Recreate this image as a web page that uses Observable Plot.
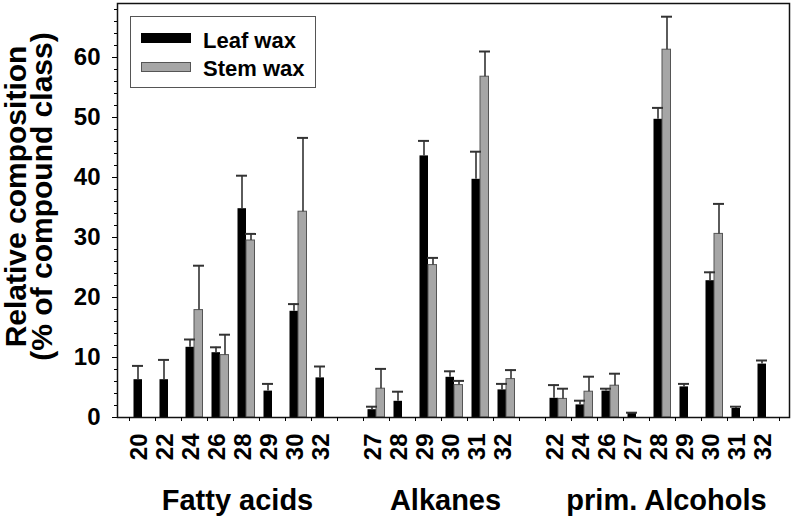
<!DOCTYPE html>
<html>
<head>
<meta charset="utf-8">
<script src="https://cdn.jsdelivr.net/npm/d3@7"></script>
<script src="https://cdn.jsdelivr.net/npm/@observablehq/plot@0.6"></script>
<style>
  html, body { margin: 0; padding: 0; background: #fff; }
  #wrap { position: relative; width: 793px; height: 519px; font-family: "Liberation Sans", Arial, sans-serif; }
  #legend { position: absolute; left: 130px; top: 16px; width: 186px; height: 72px; border: 1px solid #555; background: #fff; box-sizing: border-box; }
  .sw { position: absolute; left: 10px; width: 50px; height: 10px; box-sizing: border-box; }
  .lt { position: absolute; left: 72px; font-size: 22px; font-weight: bold; color: #000; line-height: 22px; }
</style>
</head>
<body>
<div id="wrap"></div>
<script>
// ---- data ----
const groups = ["Fatty acids", "Alkanes", "prim. Alcohols"];
const chains = [
  ["20", "22", "24", "26", "28", "29", "30", "32"],
  ["27", "28", "29", "30", "31", "32"],
  ["22", "24", "26", "27", "28", "29", "30", "31", "32"]
];
const leafValues = [
  [6.3, 6.3, 11.7, 10.8, 34.8, 4.4, 17.7, 6.6],
  [1.3, 2.7, 43.6, 6.7, 39.7, 4.6],
  [3.2, 2.1, 4.4, 0.7, 49.7, 5.1, 22.8, 1.5, 8.9]
];
const leafErrors = [
  [2.3, 3.3, 1.3, 0.9, 5.5, 1.2, 1.2, 1.9],
  [0.5, 1.6, 2.5, 1.0, 4.6, 1.0],
  [2.2, 0.7, 0.4, 0.1, 1.9, 0.5, 1.4, 0.3, 0.6]
];
const stemValues = [
  [null, null, 17.9, 10.4, 29.5, null, 34.3, null],
  [4.8, null, 25.4, 5.4, 56.8, 6.4],
  [3.1, 4.3, 5.3, null, 61.3, null, 30.6, null, null]
];
const stemErrors = [
  [null, null, 7.4, 3.4, 1.1, null, 12.3, null],
  [3.3, null, 1.2, 0.7, 4.2, 1.5],
  [1.7, 2.5, 2.0, null, 5.5, null, 5.0, null, null]
];
const seriesNames = ["Leaf wax", "Stem wax"];
const yTickLabels = [0, 10, 20, 30, 40, 50, 60];
const yTitle = "Relative composition\n(% of compound class)";

// ---- build tables ----
const slots = [];
const rows = [];
groups.forEach((g, gi) => {
  if (gi > 0) slots.push("gap" + gi);
  chains[gi].forEach((c, ci) => {
    const key = g + "|" + c;
    slots.push(key);
    rows.push({
      key, group: g, chain: c,
      leaf: leafValues[gi][ci], leafErr: leafErrors[gi][ci],
      stem: stemValues[gi][ci], stemErr: stemErrors[gi][ci]
    });
  });
});
const leafRows = rows.filter(d => d.leaf != null);
const stemRows = rows.filter(d => d.stem != null);

const minorTicks = d3.range(0, 69, 2);
const font = '"Liberation Sans", Arial, sans-serif';

const marks = [
  Plot.barY(leafRows, {x: "key", y: "leaf", fill: "#000", insetLeft: 4.5, insetRight: 13}),
  Plot.barY(stemRows, {x: "key", y: "stem", fill: "#a6a6a6", stroke: "#555", strokeWidth: 1, insetLeft: 13, insetRight: 4.5}),
  Plot.ruleX(leafRows, {x: "key", y1: "leaf", y2: d => d.leaf + d.leafErr, dx: -4.5, stroke: "#333", strokeWidth: 1.6}),
  Plot.tickY(leafRows, {x: "key", y: d => d.leaf + d.leafErr, stroke: "#333", strokeWidth: 2, insetLeft: 3, insetRight: 12}),
  Plot.ruleX(stemRows, {x: "key", y1: "stem", y2: d => d.stem + d.stemErr, dx: 4.5, stroke: "#333", strokeWidth: 1.6}),
  Plot.tickY(stemRows, {x: "key", y: d => d.stem + d.stemErr, stroke: "#333", strokeWidth: 2, insetLeft: 12, insetRight: 3}),
  Plot.frame({stroke: "#111", strokeWidth: 1.5}),
  // y axis
  Plot.axisY({ticks: minorTicks, tickSize: 3, tickFormat: () => "", label: null}),
  Plot.axisY({ticks: yTickLabels, tickSize: 5, tickPadding: 12, label: null, fontSize: 24, fontWeight: "bold"}),
  // x boundary ticks
  Plot.axisX({ticks: slots, tickSize: 4, tickFormat: () => "", label: null, dx: -13}),
  Plot.axisX({ticks: [slots[slots.length - 1]], tickSize: 4, tickFormat: () => "", label: null, dx: 13}),
  // x chain labels
  Plot.text(rows, {x: "key", text: "chain", frameAnchor: "bottom", rotate: -90, textAnchor: "end", lineAnchor: "middle", dy: 16, dx: -3, fontSize: 24, fontWeight: "bold"}),
  // y title
  Plot.text([yTitle], {frameAnchor: "left", text: d => d, rotate: -90, textAnchor: "middle", lineAnchor: "middle", dx: -87, dy: -14, fontSize: 30, fontWeight: "bold", lineHeight: 0.88})
];
// group labels (centered under each group's slots)
groups.forEach((g, gi) => {
  const n = chains[gi].length;
  const midKey = g + "|" + chains[gi][Math.floor((n - 1) / 2)];
  const off = n % 2 === 0 ? 13 : 0;
  marks.push(Plot.text([g], {x: () => midKey, text: d => d, frameAnchor: "bottom", textAnchor: "middle", lineAnchor: "bottom", dy: 92, dx: off + 4, fontSize: 29, fontWeight: "bold"}));
});

const chart = Plot.plot({
  width: 793,
  height: 519,
  marginLeft: 117,
  marginRight: 4,
  marginTop: 3,
  marginBottom: 102,
  style: {fontFamily: font, fontSize: "22px", color: "#000", background: "#fff"},
  x: {type: "band", domain: slots, range: [129, 779], padding: 0, axis: null},
  y: {domain: [0, 69], axis: null},
  marks
});

const wrap = document.getElementById("wrap");
wrap.appendChild(chart);
const legend = document.createElement("div");
legend.id = "legend";
legend.innerHTML =
  `<div class="sw" style="top:16px;background:#000"></div>` +
  `<div class="lt" style="top:13px">${seriesNames[0]}</div>` +
  `<div class="sw" style="top:45px;background:#a6a6a6;border:1px solid #555"></div>` +
  `<div class="lt" style="top:41px">${seriesNames[1]}</div>`;
wrap.appendChild(legend);
</script>
</body>
</html>
